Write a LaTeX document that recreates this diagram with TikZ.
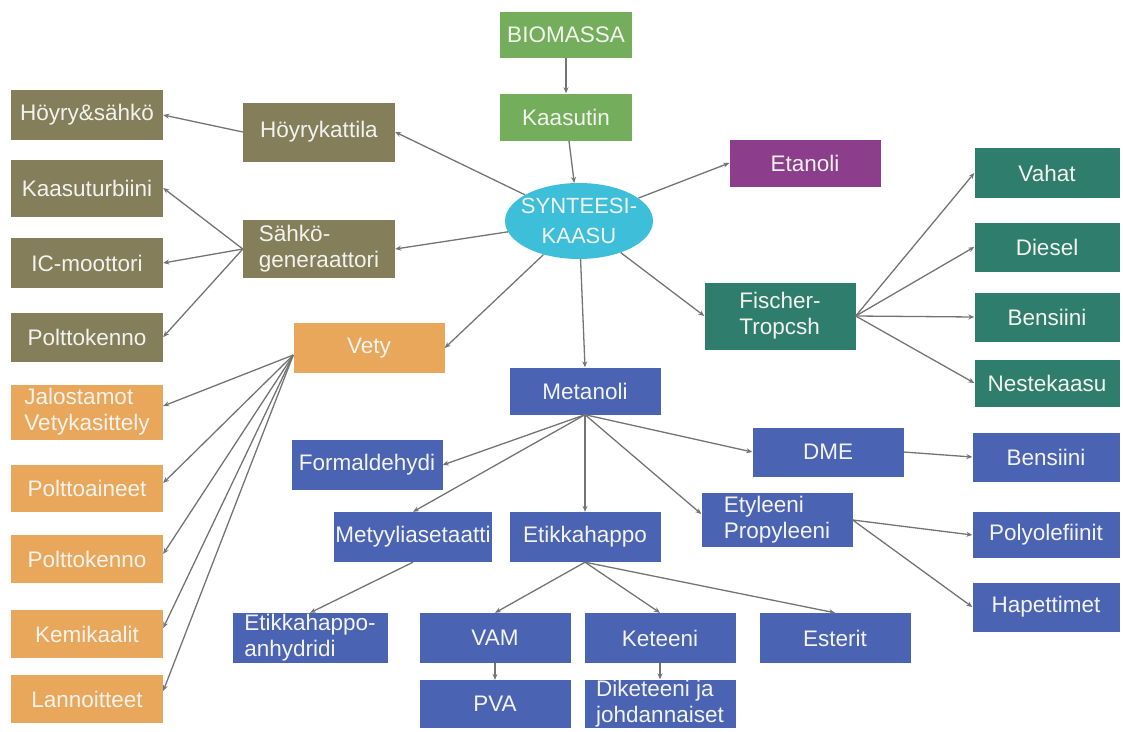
\documentclass[tikz,border=0pt]{standalone}
\usepackage{fontspec}
\setmainfont{Liberation Sans}
\usetikzlibrary{arrows.meta,shapes.geometric}
\definecolor{biogreen}{HTML}{74AE5C}
\definecolor{syngascyan}{HTML}{3EBFD9}
\definecolor{powerolive}{HTML}{857E5B}
\definecolor{hydrogenorange}{HTML}{E8A75A}
\definecolor{methanolblue}{HTML}{4B63B3}
\definecolor{ftteal}{HTML}{2F7D6C}
\definecolor{ethanolpurple}{HTML}{8C3D8C}
\definecolor{arrowgray}{HTML}{747474}
\definecolor{labelwhite}{HTML}{F3F3EE}

\begin{document}
\begin{tikzpicture}[x=1pt, y=-1pt,
    box/.style={rectangle, inner sep=1pt, minimum width=151pt, minimum height=49pt,
      text=labelwhite, align=center, font=\fontsize{22.5}{26}\selectfont},
    greenbox/.style={box, fill=biogreen},
    olivebox/.style={box, fill=powerolive},
    orangebox/.style={box, fill=hydrogenorange},
    bluebox/.style={box, fill=methanolblue},
    tealbox/.style={box, fill=ftteal},
    arr/.style={draw=arrowgray, line width=1.3pt, -{Stealth[length=6pt,width=5pt]}}]
        \useasboundingbox (0,0) rectangle (1123,731);

        % Feed and gasifier
        \node[greenbox, minimum width=132pt, minimum height=46pt] (biomassa) at (566,35) {BIOMASSA};
        \node[greenbox, minimum width=132pt, minimum height=47pt] (kaasutin) at (566,117) {Kaasutin};
        \node[ellipse, fill=syngascyan, minimum width=148pt, minimum height=76pt, inner xsep=-6pt, inner ysep=-2pt,
          text=labelwhite, align=center, font=\fontsize{22}{30}\selectfont] (synkaasu) at (579,221) {SYNTEESI-\\KAASU};
        \node[box, fill=ethanolpurple, minimum height=47pt] (etanoli) at (805,163) {Etanoli};

        % Power branch
        \node[olivebox, minimum width=152pt, minimum height=59pt] (hkattila) at (319,132) {Höyrykattila};
        \node[olivebox, minimum width=152pt, minimum height=58pt, align=left] (sgeneraattori) at (319,249) {Sähkö-\\generaattori};
        \node[olivebox, minimum width=152pt, minimum height=50pt] (hoyrysahko) at (87,115) {Höyry\&sähkö};
        \node[olivebox, minimum width=152pt, minimum height=57pt] (kturbiini) at (87,188) {Kaasuturbiini};
        \node[olivebox, minimum width=152pt, minimum height=50pt] (icmoottori) at (87,263) {IC-moottori};
        \node[olivebox, minimum width=152pt, minimum height=49pt] (pkennoa) at (87,337) {Polttokenno};

        % Hydrogen branch
        \node[orangebox, minimum height=50pt] (vety) at (369,348) {Vety};
        \node[orangebox, minimum width=152pt, minimum height=55pt, align=left] (jalostamot) at (87,412) {Jalostamot\\Vetykasittely};
        \node[orangebox, minimum width=152pt, minimum height=47pt] (pinaineet) at (87,488) {Polttoaineet};
        \node[orangebox, minimum width=152pt, minimum height=48pt] (pkennob) at (87,559) {Polttokenno};
        \node[orangebox, minimum width=152pt, minimum height=48pt] (kemikaalit) at (87,634) {Kemikaalit};
        \node[orangebox, minimum width=152pt, minimum height=48pt] (lannoitteet) at (87,699) {Lannoitteet};

        % Fischer-Tropsch branch
        \node[tealbox, minimum height=67pt, align=left] (ftropsch) at (780,316) {Fischer-\\Tropcsh};
        \node[tealbox, minimum width=145pt, minimum height=50pt] (vahat) at (1047,173) {Vahat};
        \node[tealbox, minimum width=145pt, minimum height=49pt] (diesel) at (1047,247) {Diesel};
        \node[tealbox, minimum width=145pt, minimum height=49pt] (bensiinia) at (1047,317) {Bensiini};
        \node[tealbox, minimum width=145pt, minimum height=47pt] (nestekaasu) at (1047,383) {Nestekaasu};

        % Methanol branch
        \node[bluebox, minimum height=47pt] (metanoli) at (585,391) {Metanoli};
        \node[bluebox, minimum height=50pt] (formaldehydi) at (367,465) {Formaldehydi};
        \node[bluebox, minimum height=50pt] (metyyli) at (413,537) {Metyyliasetaatti};
        \node[bluebox, minimum height=50pt] (etikka) at (585,537) {Etikkahappo};
        \node[bluebox, minimum width=155pt, minimum height=50pt, align=left] (anhydridi) at (310,638) {Etikkahappo-\\anhydridi};
        \node[bluebox, minimum height=50pt] (vam) at (495,638) {VAM};
        \node[bluebox, minimum height=50pt] (keteeni) at (660,638) {Keteeni};
        \node[bluebox, minimum height=48pt] (pva) at (495,704) {PVA};
        \node[bluebox, minimum height=48pt, align=left] (diketeeni) at (660,704) {Diketeeni ja\\johdannaiset};
        \node[bluebox, minimum height=50pt] (esterit) at (835,638) {Esterit};
        \node[bluebox, minimum height=49pt] (dme) at (828,452) {DME};
        \node[bluebox, minimum height=54pt, align=left] (etyleeni) at (777,520) {Etyleeni\\Propyleeni};
        \node[bluebox, minimum width=147pt, minimum height=49pt] (bensiinib) at (1046,457) {Bensiini};
        \node[bluebox, minimum width=147pt, minimum height=46pt] (polyolefiinit) at (1046,535) {Polyolefiinit};
        \node[bluebox, minimum width=147pt, minimum height=49pt] (hapettimet) at (1046,607) {Hapettimet};

        % Main chain
        \draw[arr] (biomassa) -- (kaasutin);
        \draw[arr] (kaasutin) -- (synkaasu);
        \draw[arr] (synkaasu) -- (etanoli.west);
        \draw[arr] (synkaasu) -- (hkattila.east);
        \draw[arr] (synkaasu) -- (sgeneraattori.east);
        \draw[arr] (synkaasu) -- (vety.east);
        \draw[arr] (synkaasu) -- (metanoli.north);
        \draw[arr] (synkaasu) -- (ftropsch.west);

        % Power outputs
        \draw[arr] (hkattila.west) -- (hoyrysahko.east);
        \draw[arr] (sgeneraattori.west) -- (kturbiini.east);
        \draw[arr] (sgeneraattori.west) -- (icmoottori.east);
        \draw[arr] (sgeneraattori.west) -- (pkennoa.east);

        % Hydrogen uses
        \draw[arr] ([yshift=-7pt]vety.west) -- ([yshift=6pt]jalostamot.east);
        \draw[arr] ([yshift=-7pt]vety.west) -- ([yshift=5pt]pinaineet.east);
        \draw[arr] ([yshift=-7pt]vety.west) -- ([yshift=5pt]pkennob.east);
        \draw[arr] ([yshift=-7pt]vety.west) -- ([yshift=6pt]kemikaalit.east);
        \draw[arr] ([yshift=-7pt]vety.west) -- ([yshift=8pt]lannoitteet.east);

        % FT products
        \draw[arr] (ftropsch.east) -- (vahat.west);
        \draw[arr] (ftropsch.east) -- (diesel.west);
        \draw[arr] (ftropsch.east) -- (bensiinia.west);
        \draw[arr] (ftropsch.east) -- (nestekaasu.west);

        % Methanol products
        \draw[arr] (metanoli.south) -- (formaldehydi.east);
        \draw[arr] (metanoli.south) -- (metyyli.north);
        \draw[arr] (metanoli.south) -- (etikka.north);
        \draw[arr] (metanoli.south) -- ([yshift=6pt]etyleeni.west);
        \draw[arr] (metanoli.south) -- (dme.west);
        \draw[arr] (dme.east) -- (bensiinib.west);
        \draw[arr] (etyleeni.east) -- (polyolefiinit.west);
        \draw[arr] (etyleeni.east) -- (hapettimet.west);
        \draw[arr] (metyyli.south) -- (anhydridi.north);
        \draw[arr] (etikka.south) -- (vam.north);
        \draw[arr] (etikka.south) -- (keteeni.north);
        \draw[arr] (etikka.south) -- (esterit.north);
        \draw[arr] (vam) -- (pva);
        \draw[arr] (keteeni) -- (diketeeni);
      \end{tikzpicture}
\end{document}
